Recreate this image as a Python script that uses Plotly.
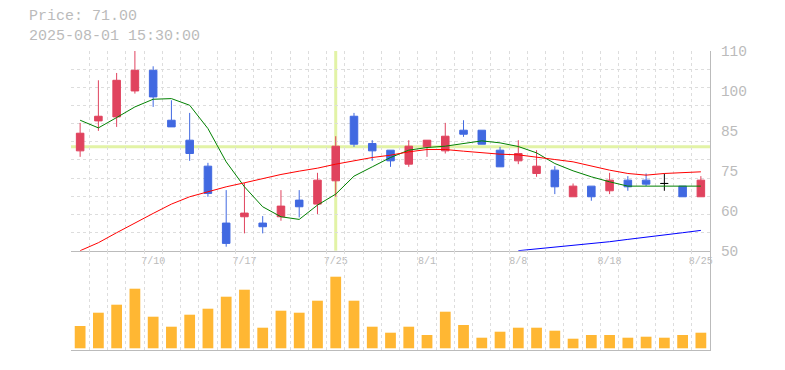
import numpy as np
import plotly.graph_objects as go

DATES = ["2025-07-04", "2025-07-07", "2025-07-08", "2025-07-09", "2025-07-10",
         "2025-07-11", "2025-07-14", "2025-07-15", "2025-07-16", "2025-07-17",
         "2025-07-18", "2025-07-22", "2025-07-23", "2025-07-24", "2025-07-25",
         "2025-07-28", "2025-07-29", "2025-07-30", "2025-07-31", "2025-08-01",
         "2025-08-04", "2025-08-05", "2025-08-06", "2025-08-07", "2025-08-08",
         "2025-08-12", "2025-08-13", "2025-08-14", "2025-08-15", "2025-08-18",
         "2025-08-19", "2025-08-20", "2025-08-21", "2025-08-22", "2025-08-25"]

OPEN = [80, 89, 90.2, 98, 104.2, 89.2, 83.2, 75.4, 58.3, 60.2,
        58.3, 60.2, 65.2, 64, 71, 90.4, 82.2, 80.2, 76, 81.2,
        80, 86.2, 86.2, 80.2, 77, 73.2, 74.2, 66.2, 69.4, 68,
        71.2, 71.2, 70.2, 69.4, 66.2]
HIGH = [88.4, 101.2, 103.4, 111, 105.4, 95.2, 91.4, 76.4, 68.2, 70.4,
        60.4, 68.2, 68.2, 73.4, 84.4, 91.4, 83.2, 80.2, 83.2, 83.2,
        88.4, 89.2, 86.2, 81.2, 83.2, 80.2, 75.4, 70.2, 69.4, 73.4,
        72.4, 73.2, 73.2, 69.4, 72.4]
LOW = [78.2, 86, 87.2, 97.2, 93.2, 87.2, 77, 66.2, 51.2, 55.2,
       55.2, 59, 60, 61, 66.2, 81.2, 77, 75.2, 75.2, 78.2,
       79.2, 84.2, 82, 75.2, 76, 72.2, 67, 66.2, 65, 67,
       68, 69.4, 68, 66.2, 66.2]
CLOSE = [85.3, 90.4, 101.2, 104.2, 96.2, 87.2, 79.2, 67.2, 52.2, 61.3,
         57.2, 63.4, 63.2, 71.2, 81.4, 82, 80, 77, 81.4, 83.2,
         84.4, 85, 82, 75.2, 79.2, 75.4, 69.2, 69.4, 66.2, 71.2,
         69.2, 70, 70.2, 66.2, 71.2]

MA_SHORT = [89.2, 86.9, 90, 93.2, 95.5, 95.7, 93.7, 86.7, 76.7, 69.2,
            63.2, 60.2, 59.4, 63.7, 67, 72.4, 75.2, 78, 80.2, 81,
            81.4, 82.2, 83, 82.4, 81.3, 79.4, 76.2, 74, 72.2, 70.7,
            69.4, 69.4, 69.4, 69.4, 69.4]
MA_MID = [50, 52.4, 55.4, 58.4, 61.2, 64, 66.2, 67.7, 69.2, 70.4,
          71.7, 72.9, 73.9, 74.8, 76, 77, 78, 78.7, 79.7, 80.4,
          80.4, 79.9, 79.4, 79, 78.8, 78, 77.4, 76.7, 75.4, 74.2,
          73.2, 72.7, 73.2, 73.4, 73.7]
MA_LONG = [None] * 24 + [50, 50.5, 51, 51.5, 52, 52.7, 53.4, 54, 54.6, 55.4, 56.1]

VOLUME = [22300, 35600, 43600, 59600, 31600, 21600, 33600, 39600, 51600, 58600,
          20600, 37600, 35600, 47600, 71600, 47600, 21600, 15600, 21600, 13300,
          36600, 23300, 10600, 16600, 20600, 20600, 17600, 9600, 13300, 13300,
          10600, 11600, 10600, 13300, 15600]

X_LABELS = {"2025-07-10": "7/10", "2025-07-17": "7/17", "2025-07-25": "7/25",
            "2025-08-01": "8/1", "2025-08-08": "8/8", "2025-08-18": "8/18",
            "2025-08-25": "8/25"}
Y_TICK_VALS = [50, 62, 74, 86, 98, 110]
Y_TICK_TEXT = ["50", "60", "75", "85", "100", "110"]
PRICE_RANGE = [50, 110]
VOL_RANGE = [-1700, 97600]

CROSS_DATE = "2025-07-25"
CROSS_PRICE = 81.2
INFO_LINES = ["Price: 71.00", "2025-08-01 15:30:00"]

UP = "#E0435E"
DOWN = "#4169E1"
DOJI = "#000000"
GRID = "#dddddd"
AXIS = "#bbbbbb"
TXT = "#bbbbbb"
FONT = "Liberation Mono, Courier New, monospace"

# page body has an 8px default margin; size the figure to fit the window
PAGE_OFF = 8
W, H = 785 - PAGE_OFF, 370 - PAGE_OFF
ML, MT, MB = 71 - PAGE_OFF, 51 - PAGE_OFF, 20
PW = 639
PH = H - MT - MB
MR = W - ML - PW

fig = go.Figure()

def subset(mask):
    idx = [i for i, m in enumerate(mask) if m]
    return ([DATES[i] for i in idx], [OPEN[i] for i in idx], [HIGH[i] for i in idx],
            [LOW[i] for i in idx], [CLOSE[i] for i in idx])

groups = [
    ([c > o for o, c in zip(OPEN, CLOSE)], UP),
    ([c < o for o, c in zip(OPEN, CLOSE)], DOWN),
    ([c == o for o, c in zip(OPEN, CLOSE)], DOJI),
]
for mask, col in groups:
    d, o, h, l, c = subset(mask)
    if not d:
        continue
    fig.add_trace(go.Candlestick(
        x=d, open=o, high=h, low=l, close=c, xaxis="x", yaxis="y",
        increasing=dict(line=dict(color=col, width=1), fillcolor=col),
        decreasing=dict(line=dict(color=col, width=1), fillcolor=col),
        whiskerwidth=0, hoverinfo="skip", showlegend=False))

for series, col in [(MA_SHORT, "#008000"), (MA_MID, "#ff0000"), (MA_LONG, "#0000ff")]:
    fig.add_trace(go.Scatter(x=DATES, y=series, mode="lines", xaxis="x", yaxis="y",
                             line=dict(color=col, width=1), hoverinfo="skip",
                             showlegend=False, connectgaps=False))

fig.add_trace(go.Bar(x=DATES, y=VOLUME, xaxis="x2", yaxis="y2",
                     marker=dict(color="#FFB733", line=dict(width=0)),
                     hoverinfo="skip", showlegend=False))

grid_vals = list(np.linspace(PRICE_RANGE[0], PRICE_RANGE[1], 12))
vol_frac = 99.3 / PH

common_x = dict(type="category", categoryorder="array", categoryarray=DATES,
                range=[-0.5, len(DATES) - 0.5], tickson="boundaries",
                showgrid=True, gridcolor=GRID, griddash="3px,3px", gridwidth=1,
                showline=True, linecolor=AXIS, linewidth=1, ticks="",
                zeroline=False, fixedrange=True, automargin=False, tickangle=0)

fig.update_layout(
    width=W, height=H,
    margin=dict(l=ML, r=MR, t=MT, b=MB, pad=0),
    paper_bgcolor="white", plot_bgcolor="white",
    font=dict(family=FONT, color=TXT),
    showlegend=False, hovermode=False,
    boxgap=0.41, bargap=0.41,
    xaxis=dict(common_x, domain=[0, 1], anchor="y",
               tickvals=DATES, ticktext=[X_LABELS.get(d, "") for d in DATES],
               tickfont=dict(size=10, color=TXT, family=FONT),
               rangeslider=dict(visible=False)),
    xaxis2=dict(common_x, domain=[0, 1], anchor="y2", matches="x",
                tickvals=DATES, showticklabels=False),
    yaxis=dict(domain=[vol_frac, 1], anchor="x", range=PRICE_RANGE, side="right",
               tickvals=Y_TICK_VALS, ticktext=Y_TICK_TEXT, ticks="",
               ticklabelstandoff=7, automargin=False,
               tickfont=dict(size=14.5, color=TXT, family=FONT),
               showgrid=False,
               minor=dict(tickvals=grid_vals, showgrid=True, gridcolor=GRID,
                          griddash="3px,3px", gridwidth=1, ticks=""),
               showline=True, linecolor=AXIS, linewidth=1, zeroline=False),
    yaxis2=dict(domain=[0, vol_frac], anchor="x2", range=VOL_RANGE, side="right",
                showgrid=False, showticklabels=False, ticks="", automargin=False,
                showline=True, linecolor=AXIS, linewidth=1, zeroline=False),
)

fig.add_shape(type="line", xref="x", yref="y domain", x0=CROSS_DATE, x1=CROSS_DATE,
              y0=0, y1=1, line=dict(color="#e2f3a6", width=3), layer="below")
fig.add_shape(type="line", xref="x domain", yref="y", x0=0, x1=1,
              y0=CROSS_PRICE, y1=CROSS_PRICE, line=dict(color="#e2f3a6", width=3),
              layer="below")

fig.add_annotation(text="<br>".join(INFO_LINES), xref="paper", yref="paper",
                   x=(26.5 - 71) / PW, y=1 + (51 - 26.3) / PH,
                   xanchor="left", yanchor="middle", align="left", showarrow=False,
                   font=dict(size=15, color=TXT, family=FONT))

fig.write_html("out.html")
